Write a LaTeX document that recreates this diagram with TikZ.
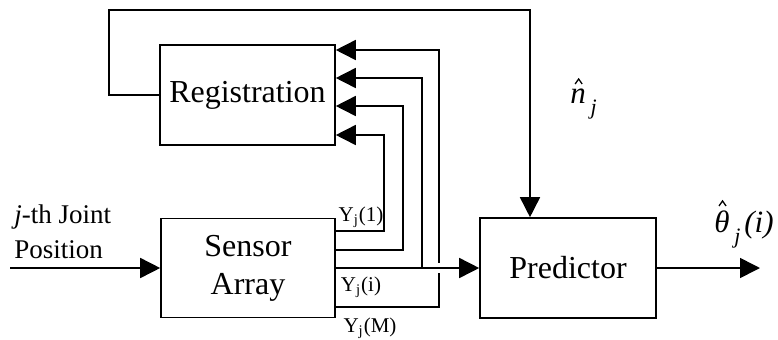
\documentclass[tikz,border=0pt]{standalone}
\usepackage{fontspec}
\setmainfont{Liberation Serif}
\usetikzlibrary{arrows.meta}

\begin{document}
\begin{tikzpicture}[x=0.5pt,y=-0.5pt,
  block/.style={draw, line width=0.8pt, rectangle, inner sep=0pt,
    font=\fontsize{16}{19}\selectfont, align=center},
  wire/.style={line width=0.8pt},
  arr/.style={wire, -{Triangle[length=10pt,width=10pt]}},
  sig/.style={font=\fontsize{10.5}{12}\selectfont, inner sep=0pt},
  est/.style={font=\fontsize{15.5}{18}\selectfont\itshape, inner sep=0pt},
  estsub/.style={font=\fontsize{11}{12}\selectfont\itshape, inner sep=0pt},
  hatmark/.style={line width=0.65pt, line join=miter}]

\useasboundingbox (0,0) rectangle (778,339);

% blocks
\node[block, minimum width=87.5pt, minimum height=50pt] (reg) at (247.5,95) {Registration};
\node[block, minimum width=87pt, minimum height=49.5pt] (sensor) at (248,268) {Sensor\\Array};
\node[block, minimum width=88pt, minimum height=50pt] (pred) at (568,268) {Predictor};

% free ends of the input and output lines
\coordinate (in) at (10,268);
\coordinate (out) at (760,268);

% input
\draw[arr] (in) -- (sensor.west);
\node[anchor=west, align=left, inner sep=0pt, font=\fontsize{13.5}{17.5}\selectfont]
  (inlabel) at (14,232) {\textit{j}-th Joint\\Position};

% sensor outputs fed back to the registration block
\draw[arr] (sensor.east |- 0,231) -| (384,135) -- (reg.east |- 0,135);
\draw[arr] (sensor.east |- 0,250) -| (403,106) -- (reg.east |- 0,106);
\draw[arr] (sensor.east |- 0,307) -| (439,50) -- (reg.east |- 0,50);
% gap where the Y_j(M) line crosses the main line
\draw[white, line width=5pt] (432,268) -- (446,268);
\draw[arr] (sensor.east |- 0,268) -- (pred.west);
\draw[arr] (422,268) |- (reg.east |- 0,78);

% signal labels
\node[sig] (y1) at (361,217) {Y\textsubscript{j}(1)};
\node[sig] (yi) at (361,287) {Y\textsubscript{j}(i)};
\node[sig] (yM) at (370,328) {Y\textsubscript{j}(M)};

% registration estimate sent to the predictor
\draw[arr] (reg.west) -- (109,95) |- (530,10) -- (pred.north -| 530,0);
\node[est, anchor=base west] (n) at (570,103) {n};
\node[estsub, anchor=base west] (nsub) at ([xshift=2pt,yshift=-5.5pt]n.base east) {j};
\draw[hatmark] ([xshift=-1.5pt,yshift=2pt]n.north) -- ++(3.5,-5) -- ++(3.5,5);

% predictor output
\draw[arr] (pred.east) -- (out);
\node[est, anchor=base west] (theta) at (714,232) {θ};
\node[estsub, anchor=base west] (thsub) at ([xshift=2pt,yshift=-5.5pt]theta.base east) {j};
\node[est, anchor=base west] (thidx) at ([xshift=1.5pt]thsub.base east |- theta.base) {(i)};
\draw[hatmark] ([xshift=-1.5pt,yshift=2pt]theta.north) -- ++(3.5,-5) -- ++(3.5,5);

\end{tikzpicture}
\end{document}
